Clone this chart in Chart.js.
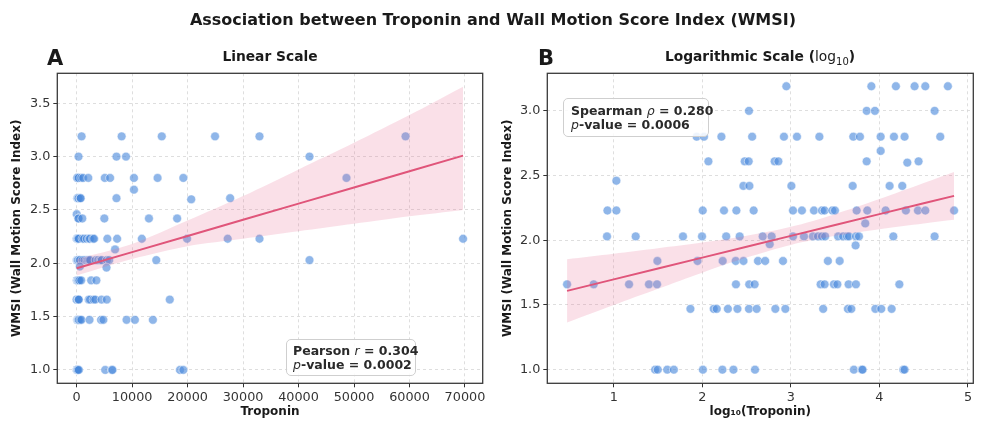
<!DOCTYPE html>
<html>
<head>
<meta charset="utf-8">
<script src="https://cdn.jsdelivr.net/npm/chart.js@4.4.1/dist/chart.umd.min.js"></script>
<style>
html,body{margin:0;padding:0;background:#fff;}
#fig{position:relative;width:986px;height:435px;overflow:hidden;font-family:"DejaVu Sans",sans-serif;color:#1a1a1a;}
#fig canvas{position:absolute;top:0;}
.t{position:absolute;white-space:nowrap;font-weight:bold;}
.box{position:absolute;background:rgba(255,255,255,0.85);border:1px solid #cfcfcf;border-radius:5px;box-sizing:border-box;font-weight:bold;font-size:12.5px;line-height:14px;color:#2a2a2a;white-space:nowrap;}
.box i{font-weight:normal;}
</style>
</head>
<body>
<div id="fig">
  <canvas id="cA" width="493" height="435" style="left:0px"></canvas>
  <canvas id="cB" width="493" height="435" style="left:493px"></canvas>
  <div class="t" style="left:0;width:986px;text-align:center;top:10px;font-size:16px;">Association between Troponin and Wall Motion Score Index (WMSI)</div>
  <div class="t" style="left:57px;width:426px;text-align:center;top:48px;font-size:13.8px;">Linear Scale</div>
  <div class="t" style="left:547px;width:426px;text-align:center;top:48px;font-size:13.8px;">Logarithmic Scale (<span style="font-weight:normal">log<sub style="font-size:10px">10</sub></span>)</div>
  <div class="t" style="left:47px;top:46px;font-size:21px;">A</div>
  <div class="t" style="left:538px;top:46px;font-size:21px;">B</div>
  <div class="box" style="left:286px;top:339px;width:130px;height:37px;padding:4px 0 0 6px;">Pearson <i>r</i> = 0.304<br><i>p</i>-value = 0.0002</div>
  <div class="box" style="left:563px;top:98px;width:146px;height:39px;padding:5px 0 0 7px;">Spearman <i>ρ</i> = 0.280<br><i>p</i>-value = 0.0006</div>
</div>
<script>
// ---- Data (log10 troponin, WMSI) ----
const logTroponin = [
  // WMSI 3.19
  2.949, 3.909, 4.186, 4.397, 4.518, 4.773,
  // WMSI 3.00
  2.527, 3.856, 3.949, 4.623,
  // WMSI 2.80
  1.937, 2.019, 2.216, 2.563, 2.922, 3.069, 3.322, 3.705, 3.780, 4.014, 4.164, 4.284, 4.687,
  // WMSI 2.69
  4.014,
  // WMSI 2.61 / 2.60
  2.069, 2.479, 2.524, 2.817, 2.859, 3.856, 4.442, 4.315,
  // WMSI 2.46
  1.030,
  // WMSI 2.42
  2.464, 2.532, 3.006, 3.698, 4.115, 4.258,
  // WMSI 2.23
  0.929, 1.030, 2.005, 2.245, 2.385, 2.580, 3.024, 3.125, 3.261, 3.351, 3.381, 3.468, 3.498, 3.743, 3.863, 4.070, 4.299, 4.435, 4.518, 4.843,
  // WMSI 2.13
  3.840,
  // WMSI 2.03
  0.924, 1.248, 1.782, 1.997, 2.270, 2.422, 2.682, 2.783, 3.024, 3.148, 3.249, 3.306, 3.351, 3.387, 3.534, 3.590, 3.635, 3.656, 3.735, 3.769, 4.157, 4.623,
  // WMSI 1.97 / 1.96
  2.761, 3.731,
  // WMSI 1.84
  1.493, 1.946, 2.230, 2.377, 2.465, 2.629, 2.710, 2.911, 3.418, 3.551,
  // WMSI 1.66
  0.473, 0.774, 1.173, 1.398, 1.489, 2.380, 2.530, 2.591, 3.336, 3.381, 3.486, 3.525, 3.652, 3.735, 4.225,
  // WMSI 1.47
  1.866, 2.129, 2.163, 2.289, 2.397, 2.527, 2.614, 2.825, 2.938, 3.365, 3.644, 3.683, 3.954, 4.021, 4.138,
  // WMSI 1.00
  1.468, 1.497, 1.604, 1.679, 2.007, 2.227, 2.352, 2.595, 3.712, 3.802, 3.810, 4.270, 4.284
];
const wmsi = [
  3.19, 3.19, 3.19, 3.19, 3.19, 3.19,
  3.00, 3.00, 3.00, 3.00,
  2.80, 2.80, 2.80, 2.80, 2.80, 2.80, 2.80, 2.80, 2.80, 2.80, 2.80, 2.80, 2.80,
  2.69,
  2.61, 2.61, 2.61, 2.61, 2.61, 2.61, 2.61, 2.60,
  2.46,
  2.42, 2.42, 2.42, 2.42, 2.42, 2.42,
  2.23, 2.23, 2.23, 2.23, 2.23, 2.23, 2.23, 2.23, 2.23, 2.23, 2.23, 2.23, 2.23, 2.23, 2.23, 2.23, 2.23, 2.23, 2.23, 2.23,
  2.13,
  2.03, 2.03, 2.03, 2.03, 2.03, 2.03, 2.03, 2.03, 2.03, 2.03, 2.03, 2.03, 2.03, 2.03, 2.03, 2.03, 2.03, 2.03, 2.03, 2.03, 2.03, 2.03,
  1.97, 1.96,
  1.84, 1.84, 1.84, 1.84, 1.84, 1.84, 1.84, 1.84, 1.84, 1.84,
  1.66, 1.66, 1.66, 1.66, 1.66, 1.66, 1.66, 1.66, 1.66, 1.66, 1.66, 1.66, 1.66, 1.66, 1.66,
  1.47, 1.47, 1.47, 1.47, 1.47, 1.47, 1.47, 1.47, 1.47, 1.47, 1.47, 1.47, 1.47, 1.47, 1.47,
  1.00, 1.00, 1.00, 1.00, 1.00, 1.00, 1.00, 1.00, 1.00, 1.00, 1.00, 1.00, 1.00
];
const troponin = logTroponin.map(v => Math.pow(10, v));

// Regression fit + 95% CI (panel A, linear scale)
const fitXA   = [0, 10000, 20000, 30000, 40000, 50000, 60000, 69660];
const fitYA   = [1.953, 2.105, 2.256, 2.408, 2.559, 2.711, 2.862, 3.009];
const ciHighA = [2.040, 2.180, 2.400, 2.630, 2.880, 3.130, 3.390, 3.656];
const ciLowA  = [1.885, 2.040, 2.160, 2.230, 2.300, 2.370, 2.440, 2.500];
// Regression fit + 95% CI (panel B, log10 scale)
const fitXB   = [0.473, 1.0, 1.5, 2.0, 2.5, 3.0, 3.5, 4.0, 4.5, 4.843];
const fitYB   = [1.609, 1.698, 1.782, 1.866, 1.950, 2.034, 2.118, 2.202, 2.286, 2.343];
const ciHighB = [1.854, 1.896, 1.938, 1.982, 2.034, 2.104, 2.202, 2.318, 2.442, 2.528];
const ciLowB  = [1.364, 1.500, 1.626, 1.750, 1.866, 1.964, 2.034, 2.086, 2.130, 2.158];

// Tick values
const xTicksA = [0, 10000, 20000, 30000, 40000, 50000, 60000, 70000];
const yTicksA = [1.0, 1.5, 2.0, 2.5, 3.0, 3.5];
const xTicksB = [1, 2, 3, 4, 5];
const yTicksB = [1.0, 1.5, 2.0, 2.5, 3.0];

// ---- Styling ----
const FONT = '"DejaVu Sans", sans-serif';
const PT_COLOR = 'rgba(74,137,220,0.62)';
const LINE_COLOR = '#e0557a';
const BAND_COLOR = 'rgba(230,100,140,0.2)';

const frame = {
  id: 'frame',
  afterDatasetsDraw(chart) {
    const a = chart.chartArea, c = chart.ctx;
    c.save();
    c.strokeStyle = '#3a3a3a';
    c.lineWidth = 1.3;
    c.strokeRect(a.left, a.top, a.right - a.left, a.bottom - a.top);
    c.restore();
  }
};

function pts(xs, ys) { return xs.map((x, i) => ({ x: x, y: ys[i] })); }

function axis(opts) {
  return {
    type: 'linear',
    min: opts.min, max: opts.max,
    afterBuildTicks: s => { s.ticks = opts.ticks.map(v => ({ value: v })); },
    afterFit: s => { if (opts.width !== undefined) s.width = opts.width; if (opts.height !== undefined) s.height = opts.height; },
    ticks: {
      font: { family: FONT, size: 12.8 }, color: '#333', padding: 3,
      callback: opts.fmt
    },
    grid: { color: '#d6d6d6', lineWidth: 0.8, tickColor: '#333', tickLength: 4, tickWidth: 1, tickBorderDash: [] },
    border: { display: false, dash: [3, 3] },
    title: { display: true, text: opts.title, font: { family: FONT, size: 12, weight: 'bold' }, color: '#1a1a1a', padding: opts.tpad }
  };
}

function makeChart(id, xs, ys, fx, fy, lo, hi, xo, yo, pad) {
  return new Chart(document.getElementById(id), {
    type: 'scatter',
    data: {
      datasets: [
        { type: 'line', data: pts(fx, fy), borderColor: LINE_COLOR, borderWidth: 2, pointRadius: 0, fill: false, tension: 0, order: 0 },
        { type: 'line', data: pts(fx, hi), borderWidth: 0, pointRadius: 0, backgroundColor: BAND_COLOR, fill: '+1', tension: 0.3, order: 1 },
        { type: 'line', data: pts(fx, lo), borderWidth: 0, pointRadius: 0, fill: false, tension: 0.3, order: 1 },
        { data: pts(xs, ys), backgroundColor: PT_COLOR, borderColor: 'rgba(255,255,255,0.85)', borderWidth: 0.6, pointRadius: 4.4, order: 2 }
      ]
    },
    options: {
      responsive: false, animation: false, events: [],
      devicePixelRatio: 1,
      layout: { padding: pad },
      plugins: { legend: { display: false }, tooltip: { enabled: false }, title: { display: false } },
      scales: { x: axis(xo), y: axis(yo) }
    },
    plugins: [frame]
  });
}

makeChart('cA', troponin, wmsi, fitXA, fitYA, ciLowA, ciHighA,
  { min: -3490, max: 73200, ticks: xTicksA, fmt: v => String(v), title: 'Troponin', height: 51.7, tpad: { top: 4, bottom: 16 } },
  { min: 0.875, max: 3.781, ticks: yTicksA, fmt: v => v.toFixed(1), title: 'WMSI (Wall Motion Score Index)', width: 57.3, tpad: { top: 9.5, bottom: 4 } },
  { left: 0, top: 73.3, right: 10.3, bottom: 0 });

makeChart('cB', logTroponin, wmsi, fitXB, fitYB, ciLowB, ciHighB,
  { min: 0.25, max: 5.06, ticks: xTicksB, fmt: v => String(v), title: 'log\u2081\u2080(Troponin)', height: 51.7, tpad: { top: 4, bottom: 16 } },
  { min: 0.895, max: 3.29, ticks: yTicksB, fmt: v => v.toFixed(1), title: 'WMSI (Wall Motion Score Index)', width: 54.3, tpad: { top: 8, bottom: 4 } },
  { left: 0, top: 73.3, right: 12.7, bottom: 0 });
</script>
</body>
</html>
